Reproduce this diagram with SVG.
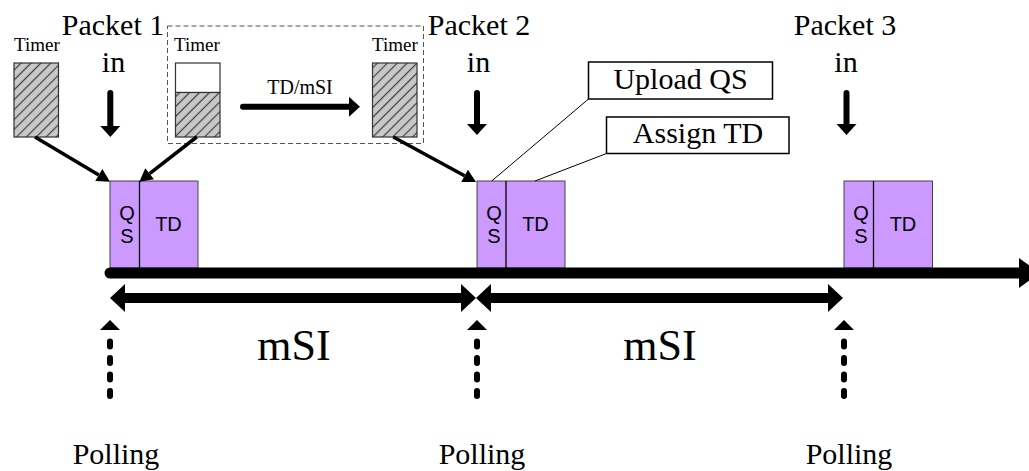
<svg xmlns="http://www.w3.org/2000/svg" width="1029" height="471" viewBox="0 0 1029 471">
  <defs>
    <style>
      .serif{font-family:"Liberation Serif","Times New Roman",serif;fill:#000}
      .sans{font-family:"Liberation Sans",Arial,sans-serif;fill:#000}
      .big{font-size:30px}
      .huge{font-size:44px}
      .small{font-size:19px}
      .mid{font-size:20px}
      .timer{fill:url(#hatch);stroke:#333;stroke-width:1.2}
      .empty{fill:#fff;stroke:#333;stroke-width:1.2}
      .slot{fill:#cc99ff;stroke:#444;stroke-width:1}
      .divider{stroke:#000;stroke-width:1.3}
      .callout{fill:#fff;stroke:#000;stroke-width:1.5}
      .leader{stroke:#000;stroke-width:1;fill:none}
      .feed{stroke:#000;stroke-width:3.5;fill:none;marker-end:url(#head-md)}
      .down{stroke:#000;stroke-width:6;stroke-linecap:round;fill:none;marker-end:url(#head-lg)}
      .span{stroke:#000;stroke-width:10;fill:none;marker-start:url(#head-xl);marker-end:url(#head-xl)}
      .poll{stroke:#000;stroke-width:6;stroke-linecap:round;stroke-dasharray:5 11.5;fill:none}
      .group-box{fill:none;stroke:#555;stroke-width:1;stroke-dasharray:5 3}
    </style>
    <pattern id="hatch" patternUnits="userSpaceOnUse" width="7" height="7" patternTransform="rotate(45)">
      <rect width="7" height="7" fill="#c8c8c8"/>
      <line x1="3.5" y1="0" x2="3.5" y2="7" stroke="#404040" stroke-width="1.2"/>
    </pattern>
    <marker id="head-md" markerUnits="userSpaceOnUse" orient="auto" overflow="visible" refX="0" refY="0" markerWidth="1" markerHeight="1">
      <path d="M0,-7 L13,0 L0,7 z" fill="#000"/>
    </marker>
    <marker id="head-lg" markerUnits="userSpaceOnUse" orient="auto" overflow="visible" refX="0" refY="0" markerWidth="1" markerHeight="1">
      <path d="M0,-10 L11,0 L0,10 z" fill="#000"/>
    </marker>
    <marker id="head-xl" markerUnits="userSpaceOnUse" orient="auto-start-reverse" overflow="visible" refX="0" refY="0" markerWidth="1" markerHeight="1">
      <path d="M0,-14 L15,0 L0,14 z" fill="#000"/>
    </marker>
    <marker id="head-tl" markerUnits="userSpaceOnUse" orient="auto" overflow="visible" refX="0" refY="0" markerWidth="1" markerHeight="1">
      <path d="M0,-15 L21,0 L0,15 z" fill="#000"/>
    </marker>
    <path id="up-head" d="M-10,10 L0,0 L10,10 z" fill="#000"/>
  </defs>

  <rect width="1029" height="471" fill="#fff"/>

  <!-- timers -->
  <g id="timer-full-1">
    <text class="serif small" x="37" y="51" text-anchor="middle">Timer</text>
    <rect class="timer" x="14" y="63" width="44.5" height="74"/>
  </g>
  <g id="timer-period">
    <rect class="group-box" x="167.5" y="26" width="256" height="117.5"/>
  </g>
  <g id="timer-half">
    <text class="serif small" x="197" y="51" text-anchor="middle">Timer</text>
    <rect class="empty" x="175.5" y="63" width="44.5" height="29.5"/>
    <rect class="timer" x="175.5" y="92.5" width="44.5" height="44.5"/>
  </g>
  <g id="timer-full-2">
    <text class="serif small" x="395" y="51" text-anchor="middle">Timer</text>
    <rect class="timer" x="372.5" y="63" width="44.5" height="74"/>
  </g>
  <g id="td-msi-label">
    <text class="serif mid" x="300" y="94" text-anchor="middle">TD/mSI</text>
  </g>

  <!-- packet arrivals -->
  <g id="packet-1">
    <text class="serif big" x="113" y="35" text-anchor="middle">Packet 1</text>
    <text class="serif big" x="113.5" y="72" text-anchor="middle">in</text>
  </g>
  <g id="packet-2">
    <text class="serif big" x="479" y="35" text-anchor="middle">Packet 2</text>
    <text class="serif big" x="478.5" y="72" text-anchor="middle">in</text>
  </g>
  <g id="packet-3">
    <text class="serif big" x="845" y="35" text-anchor="middle">Packet 3</text>
    <text class="serif big" x="846" y="72" text-anchor="middle">in</text>
  </g>

  <!-- callouts -->
  <g id="upload-qs">
    <rect class="callout" x="588.5" y="62" width="184" height="37"/>
    <text class="serif big" x="680.5" y="88.5" text-anchor="middle">Upload QS</text>
  </g>
  <g id="assign-td">
    <rect class="callout" x="606.5" y="117" width="182.5" height="36.5"/>
    <text class="serif big" x="698" y="143" text-anchor="middle">Assign TD</text>
  </g>

  <!-- time slots: QS + TD -->
  <g id="slot-1">
    <rect class="slot" x="110" y="181" width="88" height="87"/>
    <line class="divider" x1="139.5" y1="181" x2="139.5" y2="268"/>
    <text class="sans mid" x="127" y="219.5" text-anchor="middle">Q</text>
    <text class="sans mid" x="127" y="243" text-anchor="middle">S</text>
    <text class="sans mid" x="168.5" y="231" text-anchor="middle">TD</text>
  </g>
  <g id="slot-2">
    <rect class="slot" x="477" y="181" width="88" height="87"/>
    <line class="divider" x1="506" y1="181" x2="506" y2="268"/>
    <text class="sans mid" x="494" y="219.5" text-anchor="middle">Q</text>
    <text class="sans mid" x="494" y="243" text-anchor="middle">S</text>
    <text class="sans mid" x="535.5" y="231" text-anchor="middle">TD</text>
  </g>
  <g id="slot-3">
    <rect class="slot" x="844" y="181" width="88.5" height="87"/>
    <line class="divider" x1="873.5" y1="181" x2="873.5" y2="268"/>
    <text class="sans mid" x="861" y="219.5" text-anchor="middle">Q</text>
    <text class="sans mid" x="861" y="243" text-anchor="middle">S</text>
    <text class="sans mid" x="903" y="231" text-anchor="middle">TD</text>
  </g>

  <!-- interval labels -->
  <g id="msi-1">
    <text class="serif huge" x="294" y="360" text-anchor="middle">mSI</text>
  </g>
  <g id="msi-2">
    <text class="serif huge" x="660" y="360" text-anchor="middle">mSI</text>
  </g>

  <!-- polling labels -->
  <g id="polling-1">
    <text class="serif big" x="116" y="464" text-anchor="middle">Polling</text>
  </g>
  <g id="polling-2">
    <text class="serif big" x="482" y="464" text-anchor="middle">Polling</text>
  </g>
  <g id="polling-3">
    <text class="serif big" x="849" y="464" text-anchor="middle">Polling</text>
  </g>

  <!-- connectors -->
  <g id="connectors">
    <!-- timeline -->
    <line x1="110" y1="273" x2="1019" y2="273" stroke="#000" stroke-width="11" stroke-linecap="round" marker-end="url(#head-tl)"/>
    <!-- interval spans -->
    <line class="span" x1="125" y1="298" x2="461" y2="298"/>
    <line class="span" x1="491" y1="298" x2="828" y2="298"/>
    <!-- timer feeds into slots -->
    <line class="feed" x1="35" y1="137" x2="98.8" y2="175"/>
    <line class="feed" x1="196.7" y1="137" x2="149.6" y2="173.7"/>
    <line class="feed" x1="393.3" y1="137" x2="464.6" y2="175.8"/>
    <!-- timer progress -->
    <line class="down" x1="243" y1="106.7" x2="349" y2="106.7"/>
    <!-- packet arrivals -->
    <line class="down" x1="110.3" y1="93" x2="110.3" y2="126"/>
    <line class="down" x1="477" y1="93" x2="477" y2="124"/>
    <line class="down" x1="846.5" y1="93" x2="846.5" y2="124"/>
    <!-- callout leaders -->
    <line class="leader" x1="588.5" y1="99" x2="491.7" y2="181"/>
    <line class="leader" x1="606.5" y1="153.5" x2="535" y2="181"/>
    <!-- polling -->
    <path class="poll" d="M110,396 L110,341.5"/>
    <use href="#up-head" x="110" y="320"/>
    <path class="poll" d="M477,396 L477,341.5"/>
    <use href="#up-head" x="477" y="320"/>
    <path class="poll" d="M844,396 L844,341.5"/>
    <use href="#up-head" x="844" y="320"/>
  </g>
</svg>
